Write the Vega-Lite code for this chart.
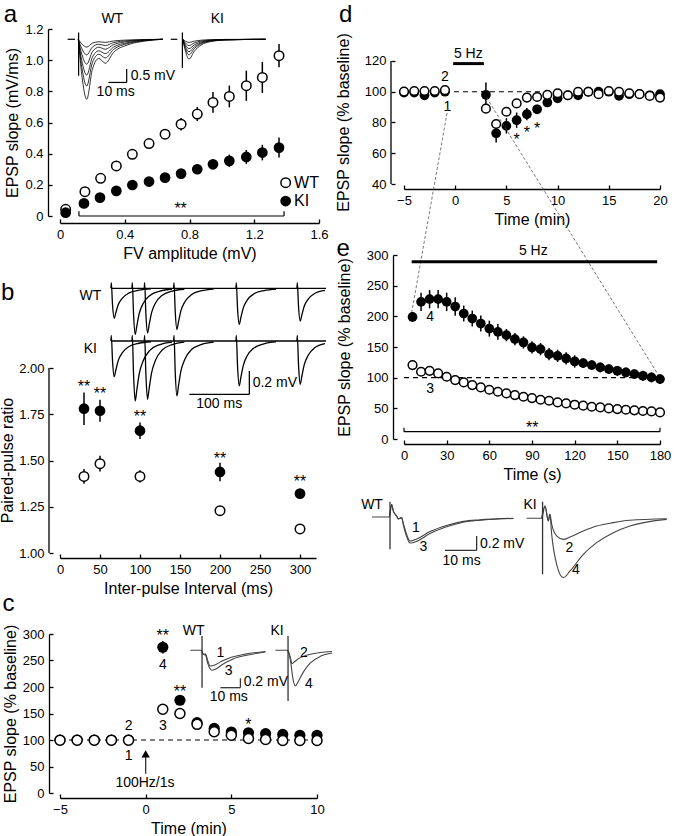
{
"$schema": "https://vega.github.io/schema/vega-lite/v6.json",
"background": "white",
"padding": {"left": 0, "top": 2, "right": 0, "bottom": 0},
"spacing": 0,
"config": {
  "font": "Liberation Sans",
  "view": {"stroke": null},
  "text": {"font": "Liberation Sans", "fontSize": 14, "color": "black"},
  "axis": {"domainColor": "black", "domainWidth": 1.3, "tickColor": "black", "tickWidth": 1.3, "tickSize": -4,
           "labelColor": "black", "labelFontSize": 13, "labelPadding": 9, "labelFont": "Liberation Sans",
           "titleColor": "black", "titleFontSize": 16, "titleFontWeight": "normal", "titleFont": "Liberation Sans",
           "titlePadding": 4, "grid": false, "labelFlush": false, "labelOverlap": false}
},
"datasets": {
  "a_wt": [
    {"fv":0.035,"slope":0.043,"lo":0.025,"hi":0.061},
    {"fv":0.154,"slope":0.156,"lo":0.141,"hi":0.171},
    {"fv":0.251,"slope":0.242,"lo":0.227,"hi":0.257},
    {"fv":0.348,"slope":0.321,"lo":0.301,"hi":0.341},
    {"fv":0.447,"slope":0.396,"lo":0.376,"hi":0.416},
    {"fv":0.55,"slope":0.465,"lo":0.445,"hi":0.485},
    {"fv":0.649,"slope":0.525,"lo":0.495,"hi":0.555},
    {"fv":0.748,"slope":0.589,"lo":0.549,"hi":0.629},
    {"fv":0.848,"slope":0.654,"lo":0.609,"hi":0.699},
    {"fv":0.945,"slope":0.729,"lo":0.662,"hi":0.796},
    {"fv":1.046,"slope":0.767,"lo":0.697,"hi":0.837},
    {"fv":1.151,"slope":0.836,"lo":0.739,"hi":0.933},
    {"fv":1.25,"slope":0.889,"lo":0.789,"hi":0.989},
    {"fv":1.353,"slope":1.029,"lo":0.954,"hi":1.104}
  ],
  "a_ki": [
    {"fv":0.035,"slope":0.021,"lo":0.011,"hi":0.031},
    {"fv":0.148,"slope":0.081,"lo":0.066,"hi":0.096},
    {"fv":0.247,"slope":0.118,"lo":0.103,"hi":0.133},
    {"fv":0.348,"slope":0.161,"lo":0.141,"hi":0.181},
    {"fv":0.447,"slope":0.199,"lo":0.179,"hi":0.219},
    {"fv":0.55,"slope":0.221,"lo":0.201,"hi":0.241},
    {"fv":0.649,"slope":0.246,"lo":0.221,"hi":0.271},
    {"fv":0.748,"slope":0.272,"lo":0.247,"hi":0.297},
    {"fv":0.848,"slope":0.3,"lo":0.27,"hi":0.33},
    {"fv":0.945,"slope":0.332,"lo":0.302,"hi":0.362},
    {"fv":1.046,"slope":0.354,"lo":0.314,"hi":0.394},
    {"fv":1.151,"slope":0.379,"lo":0.334,"hi":0.424},
    {"fv":1.25,"slope":0.407,"lo":0.357,"hi":0.457},
    {"fv":1.353,"slope":0.439,"lo":0.375,"hi":0.503}
  ],
  "a_leg_wt": [{"fv":1.394,"slope":0.214}],
  "a_leg_ki": [{"fv":1.394,"slope":0.096}],
  "a_leg_txt": [{"fv":1.446,"slope":0.214,"label":"WT"},{"fv":1.446,"slope":0.096,"label":"KI"}],
  "a_tr": [
    {"tr":"w1","fv":0.113,"slope":1.134},{"tr":"w1","fv":0.135,"slope":1.104},{"tr":"w1","fv":0.165,"slope":1.084},{"tr":"w1","fv":0.2,"slope":1.109},{"tr":"w1","fv":0.24,"slope":1.118},{"tr":"w1","fv":0.28,"slope":1.114},{"tr":"w1","fv":0.33,"slope":1.123},{"tr":"w1","fv":0.42,"slope":1.1295},{"tr":"w1","fv":0.52,"slope":1.1325},{"tr":"w1","fv":0.634,"slope":1.134},
    {"tr":"w2","fv":0.113,"slope":1.134},{"tr":"w2","fv":0.135,"slope":1.074},{"tr":"w2","fv":0.165,"slope":1.034},{"tr":"w2","fv":0.2,"slope":1.084},{"tr":"w2","fv":0.24,"slope":1.102},{"tr":"w2","fv":0.28,"slope":1.094},{"tr":"w2","fv":0.33,"slope":1.112},{"tr":"w2","fv":0.42,"slope":1.125},{"tr":"w2","fv":0.52,"slope":1.131},{"tr":"w2","fv":0.634,"slope":1.134},
    {"tr":"w3","fv":0.113,"slope":1.134},{"tr":"w3","fv":0.135,"slope":1.038},{"tr":"w3","fv":0.165,"slope":0.974},{"tr":"w3","fv":0.2,"slope":1.054},{"tr":"w3","fv":0.24,"slope":1.083},{"tr":"w3","fv":0.28,"slope":1.07},{"tr":"w3","fv":0.33,"slope":1.099},{"tr":"w3","fv":0.42,"slope":1.12},{"tr":"w3","fv":0.52,"slope":1.129},{"tr":"w3","fv":0.634,"slope":1.134},
    {"tr":"w4","fv":0.113,"slope":1.134},{"tr":"w4","fv":0.135,"slope":0.996},{"tr":"w4","fv":0.165,"slope":0.904},{"tr":"w4","fv":0.2,"slope":1.019},{"tr":"w4","fv":0.24,"slope":1.06},{"tr":"w4","fv":0.28,"slope":1.042},{"tr":"w4","fv":0.33,"slope":1.083},{"tr":"w4","fv":0.42,"slope":1.113},{"tr":"w4","fv":0.52,"slope":1.127},{"tr":"w4","fv":0.634,"slope":1.134},
    {"tr":"w5","fv":0.113,"slope":1.134},{"tr":"w5","fv":0.135,"slope":0.954},{"tr":"w5","fv":0.165,"slope":0.834},{"tr":"w5","fv":0.2,"slope":0.984},{"tr":"w5","fv":0.24,"slope":1.038},{"tr":"w5","fv":0.28,"slope":1.014},{"tr":"w5","fv":0.33,"slope":1.068},{"tr":"w5","fv":0.42,"slope":1.107},{"tr":"w5","fv":0.52,"slope":1.125},{"tr":"w5","fv":0.634,"slope":1.134},
    {"tr":"w6","fv":0.113,"slope":1.134},{"tr":"w6","fv":0.135,"slope":0.903},{"tr":"w6","fv":0.165,"slope":0.749},{"tr":"w6","fv":0.2,"slope":0.941},{"tr":"w6","fv":0.24,"slope":1.011},{"tr":"w6","fv":0.28,"slope":0.98},{"tr":"w6","fv":0.33,"slope":1.049},{"tr":"w6","fv":0.42,"slope":1.099},{"tr":"w6","fv":0.52,"slope":1.122},{"tr":"w6","fv":0.634,"slope":1.134},
    {"tr":"k1","fv":0.758,"slope":1.134},{"tr":"k1","fv":0.775,"slope":1.122},{"tr":"k1","fv":0.797,"slope":1.114},{"tr":"k1","fv":0.83,"slope":1.122},{"tr":"k1","fv":0.87,"slope":1.128},{"tr":"k1","fv":0.93,"slope":1.1316},{"tr":"k1","fv":1.02,"slope":1.1332},{"tr":"k1","fv":1.27,"slope":1.134},
    {"tr":"k2","fv":0.758,"slope":1.134},{"tr":"k2","fv":0.775,"slope":1.11},{"tr":"k2","fv":0.797,"slope":1.094},{"tr":"k2","fv":0.83,"slope":1.11},{"tr":"k2","fv":0.87,"slope":1.122},{"tr":"k2","fv":0.93,"slope":1.129},{"tr":"k2","fv":1.02,"slope":1.132},{"tr":"k2","fv":1.27,"slope":1.134},
    {"tr":"k3","fv":0.758,"slope":1.134},{"tr":"k3","fv":0.775,"slope":1.098},{"tr":"k3","fv":0.797,"slope":1.074},{"tr":"k3","fv":0.83,"slope":1.098},{"tr":"k3","fv":0.87,"slope":1.116},{"tr":"k3","fv":0.93,"slope":1.127},{"tr":"k3","fv":1.02,"slope":1.132},{"tr":"k3","fv":1.27,"slope":1.134},
    {"tr":"k4","fv":0.758,"slope":1.134},{"tr":"k4","fv":0.775,"slope":1.086},{"tr":"k4","fv":0.797,"slope":1.054},{"tr":"k4","fv":0.83,"slope":1.086},{"tr":"k4","fv":0.87,"slope":1.11},{"tr":"k4","fv":0.93,"slope":1.124},{"tr":"k4","fv":1.02,"slope":1.131},{"tr":"k4","fv":1.27,"slope":1.134},
    {"tr":"k5","fv":0.758,"slope":1.134},{"tr":"k5","fv":0.775,"slope":1.074},{"tr":"k5","fv":0.797,"slope":1.034},{"tr":"k5","fv":0.83,"slope":1.074},{"tr":"k5","fv":0.87,"slope":1.104},{"tr":"k5","fv":0.93,"slope":1.122},{"tr":"k5","fv":1.02,"slope":1.13},{"tr":"k5","fv":1.27,"slope":1.134},
    {"tr":"k6","fv":0.758,"slope":1.134},{"tr":"k6","fv":0.775,"slope":1.058},{"tr":"k6","fv":0.797,"slope":1.007},{"tr":"k6","fv":0.83,"slope":1.058},{"tr":"k6","fv":0.87,"slope":1.096},{"tr":"k6","fv":0.93,"slope":1.119},{"tr":"k6","fv":1.02,"slope":1.129},{"tr":"k6","fv":1.27,"slope":1.134}
  ],
  "a_seg": [
    {"fv":0.117,"slope":0,"fv2":1.384,"slope2":0},
    {"fv":0.117,"slope":0,"fv2":0.117,"slope2":0.03},
    {"fv":1.384,"slope":0,"fv2":1.384,"slope2":0.03},
    {"fv":0.412,"slope":0.857,"fv2":0.412,"slope2":0.943},
    {"fv":0.299,"slope":0.857,"fv2":0.412,"slope2":0.857},
    {"fv":0.047,"slope":1.134,"fv2":0.093,"slope2":1.134},
    {"fv":0.684,"slope":1.134,"fv2":0.725,"slope2":1.134},
    {"fv":0.115,"slope":0.9,"fv2":0.115,"slope2":1.177},
    {"fv":0.756,"slope":0.95,"fv2":0.756,"slope2":1.177}
  ],
  "a_txt": [{"fv":0.323,"slope":1.264,"label":"WT"},{"fv":0.972,"slope":1.264,"label":"KI"},{"fv":0.344,"slope":0.793,"label":"10 ms"}],
  "a_txt_left": [{"fv":0.437,"slope":0.9,"label":"0.5 mV"}],
  "a_star": [{"fv":0.745,"slope":0.07,"label":"**"}],
  "a_letter": [{"fv":-0.307,"slope":1.292,"label":"a"}],

  "b_wt": [
    {"ipi":30,"ppr":1.414,"lo":1.374,"hi":1.454},
    {"ipi":50,"ppr":1.483,"lo":1.44,"hi":1.526},
    {"ipi":100,"ppr":1.414,"lo":1.381,"hi":1.447},
    {"ipi":200,"ppr":1.229,"lo":1.214,"hi":1.244},
    {"ipi":300,"ppr":1.13,"lo":1.115,"hi":1.145}
  ],
  "b_ki": [
    {"ipi":30,"ppr":1.78,"lo":1.692,"hi":1.868},
    {"ipi":50,"ppr":1.769,"lo":1.709,"hi":1.829},
    {"ipi":100,"ppr":1.661,"lo":1.616,"hi":1.706},
    {"ipi":200,"ppr":1.438,"lo":1.388,"hi":1.488},
    {"ipi":300,"ppr":1.321,"lo":1.299,"hi":1.343}
  ],
  "b_tr": [
    {"tr":"wb","ipi":63.75,"ppr":2.431},{"tr":"wb","ipi":332.5,"ppr":2.431},
    {"tr":"wf","ipi":63.65,"ppr":2.431},{"tr":"wf","ipi":64.15,"ppr":2.461},{"tr":"wf","ipi":65.65,"ppr":2.342},{"tr":"wf","ipi":67.75,"ppr":2.269},{"tr":"wf","ipi":69.75,"ppr":2.298},{"tr":"wf","ipi":72.75,"ppr":2.342},{"tr":"wf","ipi":77.75,"ppr":2.377},{"tr":"wf","ipi":85.75,"ppr":2.405},{"tr":"wf","ipi":98.75,"ppr":2.421},{"tr":"wf","ipi":113.75,"ppr":2.428},
    {"tr":"w30","ipi":89.9,"ppr":2.431},{"tr":"w30","ipi":90.4,"ppr":2.461},{"tr":"w30","ipi":91.9,"ppr":2.294},{"tr":"w30","ipi":94,"ppr":2.182},{"tr":"w30","ipi":96,"ppr":2.227},{"tr":"w30","ipi":99,"ppr":2.294},{"tr":"w30","ipi":104,"ppr":2.349},{"tr":"w30","ipi":112,"ppr":2.391},{"tr":"w30","ipi":125,"ppr":2.416},{"tr":"w30","ipi":140,"ppr":2.426},
    {"tr":"w50","ipi":105.3,"ppr":2.431},{"tr":"w50","ipi":105.8,"ppr":2.461},{"tr":"w50","ipi":107.3,"ppr":2.298},{"tr":"w50","ipi":109.4,"ppr":2.19},{"tr":"w50","ipi":111.4,"ppr":2.233},{"tr":"w50","ipi":114.4,"ppr":2.298},{"tr":"w50","ipi":119.4,"ppr":2.352},{"tr":"w50","ipi":127.4,"ppr":2.392},{"tr":"w50","ipi":140.4,"ppr":2.416},{"tr":"w50","ipi":155.4,"ppr":2.426},
    {"tr":"w100","ipi":142,"ppr":2.431},{"tr":"w100","ipi":142.5,"ppr":2.461},{"tr":"w100","ipi":144,"ppr":2.309},{"tr":"w100","ipi":146.1,"ppr":2.209},{"tr":"w100","ipi":148.1,"ppr":2.249},{"tr":"w100","ipi":151.1,"ppr":2.309},{"tr":"w100","ipi":156.1,"ppr":2.358},{"tr":"w100","ipi":164.1,"ppr":2.396},{"tr":"w100","ipi":177.1,"ppr":2.418},{"tr":"w100","ipi":192.1,"ppr":2.427},
    {"tr":"w200","ipi":219.9,"ppr":2.431},{"tr":"w200","ipi":220.4,"ppr":2.461},{"tr":"w200","ipi":221.9,"ppr":2.324},{"tr":"w200","ipi":224,"ppr":2.236},{"tr":"w200","ipi":226,"ppr":2.271},{"tr":"w200","ipi":229,"ppr":2.324},{"tr":"w200","ipi":234,"ppr":2.367},{"tr":"w200","ipi":242,"ppr":2.4},{"tr":"w200","ipi":255,"ppr":2.419},{"tr":"w200","ipi":270,"ppr":2.427},
    {"tr":"w300","ipi":296.15,"ppr":2.431},{"tr":"w300","ipi":296.65,"ppr":2.461},{"tr":"w300","ipi":298.15,"ppr":2.334},{"tr":"w300","ipi":300.25,"ppr":2.254},{"tr":"w300","ipi":302.25,"ppr":2.286},{"tr":"w300","ipi":305.25,"ppr":2.334},{"tr":"w300","ipi":310.25,"ppr":2.373},{"tr":"w300","ipi":318.25,"ppr":2.403},{"tr":"w300","ipi":331.25,"ppr":2.42},
    {"tr":"kb","ipi":63.75,"ppr":2.146},{"tr":"kb","ipi":332.5,"ppr":2.146},
    {"tr":"kf","ipi":63.65,"ppr":2.146},{"tr":"kf","ipi":64.15,"ppr":2.176},{"tr":"kf","ipi":65.65,"ppr":2.04},{"tr":"kf","ipi":67.75,"ppr":1.953},{"tr":"kf","ipi":69.75,"ppr":1.988},{"tr":"kf","ipi":72.75,"ppr":2.04},{"tr":"kf","ipi":77.75,"ppr":2.082},{"tr":"kf","ipi":85.75,"ppr":2.115},{"tr":"kf","ipi":98.75,"ppr":2.134},{"tr":"kf","ipi":113.75,"ppr":2.142},
    {"tr":"k30","ipi":89.9,"ppr":2.146},{"tr":"k30","ipi":90.4,"ppr":2.176},{"tr":"k30","ipi":91.9,"ppr":1.968},{"tr":"k30","ipi":94,"ppr":1.822},{"tr":"k30","ipi":96,"ppr":1.88},{"tr":"k30","ipi":99,"ppr":1.968},{"tr":"k30","ipi":104,"ppr":2.039},{"tr":"k30","ipi":112,"ppr":2.094},{"tr":"k30","ipi":125,"ppr":2.127},{"tr":"k30","ipi":140,"ppr":2.14},
    {"tr":"k50","ipi":105.3,"ppr":2.146},{"tr":"k50","ipi":105.8,"ppr":2.176},{"tr":"k50","ipi":107.3,"ppr":1.973},{"tr":"k50","ipi":109.4,"ppr":1.831},{"tr":"k50","ipi":111.4,"ppr":1.888},{"tr":"k50","ipi":114.4,"ppr":1.973},{"tr":"k50","ipi":119.4,"ppr":2.042},{"tr":"k50","ipi":127.4,"ppr":2.096},{"tr":"k50","ipi":140.4,"ppr":2.127},{"tr":"k50","ipi":155.4,"ppr":2.14},
    {"tr":"k100","ipi":142,"ppr":2.146},{"tr":"k100","ipi":142.5,"ppr":2.176},{"tr":"k100","ipi":144,"ppr":1.983},{"tr":"k100","ipi":146.1,"ppr":1.849},{"tr":"k100","ipi":148.1,"ppr":1.903},{"tr":"k100","ipi":151.1,"ppr":1.983},{"tr":"k100","ipi":156.1,"ppr":2.048},{"tr":"k100","ipi":164.1,"ppr":2.099},{"tr":"k100","ipi":177.1,"ppr":2.128},{"tr":"k100","ipi":192.1,"ppr":2.14},
    {"tr":"k200","ipi":219.9,"ppr":2.146},{"tr":"k200","ipi":220.4,"ppr":2.176},{"tr":"k200","ipi":221.9,"ppr":2.012},{"tr":"k200","ipi":224,"ppr":1.903},{"tr":"k200","ipi":226,"ppr":1.947},{"tr":"k200","ipi":229,"ppr":2.012},{"tr":"k200","ipi":234,"ppr":2.066},{"tr":"k200","ipi":242,"ppr":2.107},{"tr":"k200","ipi":255,"ppr":2.131},{"tr":"k200","ipi":270,"ppr":2.141},
    {"tr":"k300","ipi":296.15,"ppr":2.146},{"tr":"k300","ipi":296.65,"ppr":2.176},{"tr":"k300","ipi":298.15,"ppr":2.017},{"tr":"k300","ipi":300.25,"ppr":1.912},{"tr":"k300","ipi":302.25,"ppr":1.954},{"tr":"k300","ipi":305.25,"ppr":2.017},{"tr":"k300","ipi":310.25,"ppr":2.069},{"tr":"k300","ipi":318.25,"ppr":2.109},{"tr":"k300","ipi":331.25,"ppr":2.132}
  ],
  "b_seg": [
    {"ipi":-13.75,"ppr":1,"ipi2":-13.75,"ppr2":2},
    {"ipi":236.7,"ppr":1.858,"ipi2":236.7,"ppr2":1.984},
    {"ipi":161.7,"ppr":1.858,"ipi2":236.7,"ppr2":1.858}
  ],
  "b_txt": [{"ipi":37.9,"ppr":2.389,"label":"WT"},{"ipi":37.9,"ppr":2.101,"label":"KI"},{"ipi":199,"ppr":1.804,"label":"100 ms"}],
  "b_txt_left": [{"ipi":240.8,"ppr":1.919,"label":"0.2 mV"}],
  "b_star": [{"ipi":30,"ppr":1.92,"label":"**"},{"ipi":50,"ppr":1.88,"label":"**"},{"ipi":100,"ppr":1.757,"label":"**"},{"ipi":200,"ppr":1.528,"label":"**"},{"ipi":300,"ppr":1.405,"label":"**"}],
  "b_letter": [{"ipi":-65.4,"ppr":2.407,"label":"b"}],
  "b_ytitle": [{"ipi":-65,"ppr":1.5,"label":"Paired-pulse ratio"}],

  "c_wt": [
    {"t":-5,"pct":99.5},{"t":-4,"pct":99.5},{"t":-3,"pct":99.5},{"t":-2,"pct":99.5},{"t":-1,"pct":99.5},
    {"t":1,"pct":158},{"t":2,"pct":150},{"t":3,"pct":129.5},{"t":4,"pct":115.6},{"t":5,"pct":109},
    {"t":6,"pct":103},{"t":7,"pct":101},{"t":8,"pct":99},{"t":9,"pct":99},{"t":10,"pct":99}
  ],
  "c_ki": [
    {"t":-5,"pct":100,"lo":97,"hi":103},{"t":-4,"pct":100,"lo":97,"hi":103},{"t":-3,"pct":100,"lo":97,"hi":103},{"t":-2,"pct":100,"lo":97,"hi":103},{"t":-1,"pct":100,"lo":97,"hi":103},
    {"t":1,"pct":275,"lo":263,"hi":287},{"t":2,"pct":175,"lo":170,"hi":180},{"t":3,"pct":132.7,"lo":129,"hi":136},{"t":4,"pct":122,"lo":118,"hi":126},{"t":5,"pct":115,"lo":111,"hi":119},
    {"t":6,"pct":113.7,"lo":110,"hi":117},{"t":7,"pct":112,"lo":109,"hi":115},{"t":8,"pct":110.5,"lo":107,"hi":114},{"t":9,"pct":109,"lo":106,"hi":112},{"t":10,"pct":109,"lo":106,"hi":112}
  ],
  "c_tr": [
    {"tr":"w1","t":2.61,"pct":269.2},{"tr":"w1","t":3.25,"pct":269.2},{"tr":"w1","t":3.35,"pct":262},{"tr":"w1","t":3.5,"pct":262},{"tr":"w1","t":3.62,"pct":250},{"tr":"w1","t":3.77,"pct":239.6},{"tr":"w1","t":4.0,"pct":241},{"tr":"w1","t":4.4,"pct":248},{"tr":"w1","t":5.0,"pct":256},{"tr":"w1","t":5.8,"pct":262},{"tr":"w1","t":6.99,"pct":267},
    {"tr":"w3","t":3.25,"pct":269.2},{"tr":"w3","t":3.35,"pct":262},{"tr":"w3","t":3.5,"pct":260},{"tr":"w3","t":3.62,"pct":245},{"tr":"w3","t":3.87,"pct":231.5},{"tr":"w3","t":4.1,"pct":234},{"tr":"w3","t":4.5,"pct":243},{"tr":"w3","t":5.1,"pct":253},{"tr":"w3","t":5.9,"pct":260},{"tr":"w3","t":6.99,"pct":266},
    {"tr":"k2","t":7.57,"pct":269.2},{"tr":"k2","t":8.28,"pct":269.2},{"tr":"k2","t":8.38,"pct":262},{"tr":"k2","t":8.45,"pct":255},{"tr":"k2","t":8.54,"pct":244},{"tr":"k2","t":8.7,"pct":248},{"tr":"k2","t":9.0,"pct":255},{"tr":"k2","t":9.5,"pct":261},{"tr":"k2","t":10.2,"pct":265},{"tr":"k2","t":10.88,"pct":267},
    {"tr":"k4","t":8.28,"pct":269.2},{"tr":"k4","t":8.38,"pct":262},{"tr":"k4","t":8.45,"pct":250},{"tr":"k4","t":8.6,"pct":215},{"tr":"k4","t":8.74,"pct":202},{"tr":"k4","t":8.9,"pct":210},{"tr":"k4","t":9.2,"pct":228},{"tr":"k4","t":9.6,"pct":245},{"tr":"k4","t":10.2,"pct":258},{"tr":"k4","t":10.88,"pct":264}
  ],
  "c_seg": [
    {"t":3.29,"pct":198.7,"t2":3.29,"pct2":296},
    {"t":8.31,"pct":173.6,"t2":8.31,"pct2":296},
    {"t":5.53,"pct":198.7,"t2":5.53,"pct2":216.4},
    {"t":4.36,"pct":198.7,"t2":5.53,"pct2":198.7},
    {"t":0,"pct":36.5,"t2":0,"pct2":74}
  ],
  "c_dash": [{"t":-5,"pct":100,"t2":10,"pct2":100}],
  "c_arrow": [{"t":0,"pct":74}],
  "c_txt": [
    {"t":1,"pct":241.5,"label":"4"},{"t":1,"pct":126.4,"label":"3"},{"t":-1,"pct":126.4,"label":"2"},{"t":-1,"pct":69.8,"label":"1"},
    {"t":-0.04,"pct":18.3,"label":"100Hz/1s"},{"t":2.8,"pct":305.7,"label":"WT"},{"t":7.67,"pct":305.7,"label":"KI"},
    {"t":4.36,"pct":264.7,"label":"1"},{"t":4.85,"pct":230.2,"label":"3"},{"t":9.23,"pct":264.7,"label":"2"},{"t":9.52,"pct":205,"label":"4"},
    {"t":4.85,"pct":181,"label":"10 ms"}
  ],
  "c_txt_left": [{"t":5.72,"pct":210,"label":"0.2 mV"}],
  "c_star": [{"t":1,"pct":303.8,"label":"**"},{"t":2,"pct":198.7,"label":"**"},{"t":6,"pct":135.8,"label":"*"}],
  "c_letter": [{"t":-8.0,"pct":356,"label":"c"}],

  "d_wt": [
    {"t":-5,"pct":100.1},{"t":-4,"pct":100.5},{"t":-3,"pct":100.5},{"t":-2,"pct":100.5},{"t":-1,"pct":101},
    {"t":3,"pct":89},{"t":4,"pct":79},{"t":5,"pct":87},{"t":6,"pct":92.4},{"t":7,"pct":96.2},
    {"t":8,"pct":96.6},{"t":9,"pct":98},{"t":10,"pct":99},{"t":11,"pct":97.7},{"t":12,"pct":100},
    {"t":13,"pct":100},{"t":14,"pct":98.4},{"t":15,"pct":100.5},{"t":16,"pct":100},{"t":17,"pct":99},
    {"t":18,"pct":98.4},{"t":19,"pct":97.3},{"t":20,"pct":96.2}
  ],
  "d_ki": [
    {"t":-5,"pct":99.5,"lo":98,"hi":101},{"t":-4,"pct":99.5,"lo":98,"hi":101},{"t":-3,"pct":97.7,"lo":96,"hi":99.4},{"t":-2,"pct":99.5,"lo":98,"hi":101},{"t":-1,"pct":100,"lo":98.5,"hi":101.5},
    {"t":3,"pct":98,"lo":90,"hi":106},{"t":4,"pct":73,"lo":67,"hi":79},{"t":5,"pct":77.8,"lo":72.8,"hi":82.8},{"t":6,"pct":81.5,"lo":76.5,"hi":86.5},{"t":7,"pct":85.4,"lo":81.4,"hi":89.4},
    {"t":8,"pct":88.6,"lo":85.6,"hi":91.6},{"t":9,"pct":93,"lo":91,"hi":95},{"t":10,"pct":95.7,"lo":93.7,"hi":97.7},{"t":11,"pct":97.7,"lo":95.7,"hi":99.7},{"t":12,"pct":97.7,"lo":95.7,"hi":99.7},
    {"t":13,"pct":100,"lo":98,"hi":102},{"t":14,"pct":100,"lo":98,"hi":102},{"t":15,"pct":100,"lo":98,"hi":102},{"t":16,"pct":97.3,"lo":95.3,"hi":99.3},{"t":17,"pct":98.4,"lo":96.4,"hi":100.4},
    {"t":18,"pct":98.4,"lo":96.4,"hi":100.4},{"t":19,"pct":97.7,"lo":95.7,"hi":99.7},{"t":20,"pct":98.4,"lo":96.4,"hi":100.4}
  ],
  "d_seg": [{"t":-6.27,"pct":40,"t2":-6.27,"pct2":120}],
  "d_dash": [{"t":-1,"pct":100,"t2":10,"pct2":100}],
  "d_bar": [{"t":-0.2,"pct":118.3,"t2":2.8,"pct2":118.3}],
  "d_txt": [{"t":1.28,"pct":124.3,"label":"5 Hz"},{"t":-1,"pct":109.6,"label":"2"},{"t":-0.77,"pct":90,"label":"1"}],
  "d_star": [{"t":6,"pct":71.2,"label":"*"},{"t":7,"pct":75.5,"label":"*"},{"t":8,"pct":78.4,"label":"*"}],
  "d_letter": [{"t":-10.7,"pct":150.1,"label":"d"}],
  "d_ytitle": [{"t":-10.9,"pct":80,"label":"EPSP slope (% baseline)"}],

  "e_ki": [
    {"t":6,"pct":199,"lo":191,"hi":207},{"t":12,"pct":223.5,"lo":208.5,"hi":238.5},{"t":18,"pct":228,"lo":213,"hi":243},{"t":24,"pct":228,"lo":213,"hi":243},{"t":30,"pct":223.5,"lo":208.5,"hi":238.5},
    {"t":36,"pct":216,"lo":201,"hi":231},{"t":42,"pct":204.6,"lo":191.6,"hi":217.6},{"t":48,"pct":196.4,"lo":183.4,"hi":209.4},{"t":54,"pct":188.3,"lo":175.3,"hi":201.3},{"t":60,"pct":180,"lo":167,"hi":193},
    {"t":66,"pct":174.7,"lo":161.7,"hi":187.7},{"t":72,"pct":169.3,"lo":159.3,"hi":179.3},{"t":78,"pct":162.8,"lo":152.8,"hi":172.8},{"t":84,"pct":157.4,"lo":147.4,"hi":167.4},{"t":90,"pct":149.2,"lo":139.2,"hi":159.2},
    {"t":96,"pct":146.5,"lo":136.5,"hi":156.5},{"t":102,"pct":138.4,"lo":128.4,"hi":148.4},{"t":108,"pct":135.6,"lo":125.6,"hi":145.6},{"t":114,"pct":131.3,"lo":121.3,"hi":141.3},{"t":120,"pct":126.4,"lo":116.4,"hi":136.4},
    {"t":126,"pct":123.7,"lo":115.7,"hi":131.7},{"t":132,"pct":120.5,"lo":112.5,"hi":128.5},{"t":138,"pct":116.7,"lo":108.7,"hi":124.7},{"t":144,"pct":114,"lo":106,"hi":122},{"t":150,"pct":111.2,"lo":103.2,"hi":119.2},
    {"t":156,"pct":108.5,"lo":100.5,"hi":116.5},{"t":162,"pct":105.8,"lo":97.8,"hi":113.8},{"t":168,"pct":103.1,"lo":95.1,"hi":111.1},{"t":174,"pct":100.4,"lo":92.4,"hi":108.4},{"t":180,"pct":97.7,"lo":89.7,"hi":105.7}
  ],
  "e_wt": [
    {"t":6,"pct":120.5},{"t":12,"pct":109.6},{"t":18,"pct":111.2},{"t":24,"pct":106.9},{"t":30,"pct":101.5},
    {"t":36,"pct":96},{"t":42,"pct":92.2},{"t":48,"pct":87.9},{"t":54,"pct":84.1},{"t":60,"pct":80.3},
    {"t":66,"pct":77},{"t":72,"pct":74.3},{"t":78,"pct":71.6},{"t":84,"pct":68.9},{"t":90,"pct":66.7},
    {"t":96,"pct":64},{"t":102,"pct":62.4},{"t":108,"pct":59.7},{"t":114,"pct":58},{"t":120,"pct":55.9},
    {"t":126,"pct":54.3},{"t":132,"pct":52.6},{"t":138,"pct":51.5},{"t":144,"pct":49.9},{"t":150,"pct":48.8},
    {"t":156,"pct":47.7},{"t":162,"pct":46.7},{"t":168,"pct":45.6},{"t":174,"pct":45},{"t":180,"pct":43.4}
  ],
  "e_dash": [{"t":0,"pct":100,"t2":180,"pct2":100}],
  "e_bar": [{"t":5.4,"pct":289,"t2":178,"pct2":289}],
  "e_seg": [{"t":0,"pct":11.9,"t2":180,"pct2":11.9},{"t":0,"pct":11.9,"t2":0,"pct2":18.5},{"t":180,"pct":11.9,"t2":180,"pct2":18.5}],
  "e_zoom": [{"t":30.9,"pct":539.7,"t2":5.4,"pct2":206},{"t":58.1,"pct":556.5,"t2":180,"pct2":100}],
  "e_txt": [{"t":90.9,"pct":306.5,"label":"5 Hz"},{"t":18.3,"pct":199,"label":"4"},{"t":18.3,"pct":81,"label":"3"}],
  "e_star": [{"t":90.2,"pct":25,"label":"**"}],
  "e_letter": [{"t":-42.7,"pct":309.3,"label":"e"}],

  "t_tr": [
    {"tr":"W1","ms":0,"mv":0},{"tr":"W1","ms":5.42,"mv":0},{"tr":"W1","ms":6.15,"mv":0.19},{"tr":"W1","ms":6.67,"mv":0.09},{"tr":"W1","ms":7.71,"mv":0.015},{"tr":"W1","ms":8.23,"mv":-0.03},{"tr":"W1","ms":9.27,"mv":-0.01},{"tr":"W1","ms":9.79,"mv":-0.1},{"tr":"W1","ms":10.83,"mv":-0.27},{"tr":"W1","ms":11.875,"mv":-0.37},{"tr":"W1","ms":13.96,"mv":-0.34},{"tr":"W1","ms":18.1,"mv":-0.225},{"tr":"W1","ms":23.3,"mv":-0.13},{"tr":"W1","ms":28.5,"mv":-0.068},{"tr":"W1","ms":33.75,"mv":-0.044},{"tr":"W1","ms":44.2,"mv":-0.02},
    {"tr":"W3","ms":5.42,"mv":0},{"tr":"W3","ms":6.15,"mv":0.19},{"tr":"W3","ms":6.67,"mv":0.09},{"tr":"W3","ms":7.71,"mv":0.015},{"tr":"W3","ms":8.23,"mv":-0.03},{"tr":"W3","ms":9.27,"mv":-0.01},{"tr":"W3","ms":9.79,"mv":-0.12},{"tr":"W3","ms":10.83,"mv":-0.3},{"tr":"W3","ms":11.875,"mv":-0.4},{"tr":"W3","ms":13.96,"mv":-0.375},{"tr":"W3","ms":18.1,"mv":-0.255},{"tr":"W3","ms":23.3,"mv":-0.15},{"tr":"W3","ms":28.5,"mv":-0.08},{"tr":"W3","ms":33.75,"mv":-0.05},{"tr":"W3","ms":44.2,"mv":-0.022},
    {"tr":"K2","ms":48.3,"mv":-0.02},{"tr":"K2","ms":53.0,"mv":-0.02},{"tr":"K2","ms":54.06,"mv":0.17},{"tr":"K2","ms":55.1,"mv":-0.06},{"tr":"K2","ms":55.6,"mv":0.04},{"tr":"K2","ms":56.15,"mv":-0.11},{"tr":"K2","ms":57.7,"mv":-0.29},{"tr":"K2","ms":59.8,"mv":-0.344},{"tr":"K2","ms":61.9,"mv":-0.308},{"tr":"K2","ms":66.04,"mv":-0.215},{"tr":"K2","ms":70.2,"mv":-0.138},{"tr":"K2","ms":75.4,"mv":-0.087},{"tr":"K2","ms":80.6,"mv":-0.051},{"tr":"K2","ms":92.1,"mv":-0.026},
    {"tr":"K4","ms":53.0,"mv":-0.02},{"tr":"K4","ms":54.06,"mv":0.17},{"tr":"K4","ms":55.1,"mv":-0.06},{"tr":"K4","ms":55.6,"mv":0.04},{"tr":"K4","ms":56.15,"mv":-0.267},{"tr":"K4","ms":57.7,"mv":-0.728},{"tr":"K4","ms":59.8,"mv":-0.933},{"tr":"K4","ms":61.9,"mv":-0.831},{"tr":"K4","ms":66.04,"mv":-0.574},{"tr":"K4","ms":70.2,"mv":-0.395},{"tr":"K4","ms":75.4,"mv":-0.241},{"tr":"K4","ms":80.6,"mv":-0.138},{"tr":"K4","ms":92.1,"mv":-0.036}
  ],
  "t_seg": [
    {"ms":5.63,"mv":0.236,"ms2":5.63,"mv2":-0.497},
    {"ms":53.3,"mv":0.236,"ms2":53.3,"mv2":-0.882},
    {"ms":32.7,"mv":-0.513,"ms2":32.7,"mv2":-0.292},
    {"ms":22.8,"mv":-0.513,"ms2":32.7,"mv2":-0.513}
  ],
  "t_txt": [{"ms":0,"mv":0.185,"label":"WT"},{"ms":49.4,"mv":0.185,"label":"KI"},{"ms":13.75,"mv":-0.164,"label":"1"},{"ms":16.04,"mv":-0.462,"label":"3"},{"ms":61.7,"mv":-0.471,"label":"2"},{"ms":63.75,"mv":-0.82,"label":"4"},{"ms":28,"mv":-0.677,"label":"10 ms"}],
  "t_txt_left": [{"ms":33.75,"mv":-0.41,"label":"0.2 mV"}]
},
"hconcat": [
 {
  "bounds": "flush",
  "spacing": 81,
  "vconcat": [
   {
    "width": 259, "height": 187,
    "encoding": {
      "x": {"field": "fv", "type": "quantitative", "scale": {"domain": [0, 1.6], "nice": false, "zero": false},
            "axis": {"title": "FV amplitude (mV)", "values": [0, 0.4, 0.8, 1.2, 1.6], "labelExpr": "datum.value == 0 ? '0' : format(datum.value, '.1f')", "offset": 7}},
      "y": {"field": "slope", "type": "quantitative", "scale": {"domain": [0, 1.2], "nice": false, "zero": false},
            "axis": {"title": "EPSP slope (mV/ms)", "values": [0, 0.2, 0.4, 0.6, 0.8, 1.0, 1.2], "labelExpr": "datum.value == 0 ? '0' : format(datum.value, '.1f')", "offset": 12}}
    },
    "layer": [
      {"data": {"name": "a_tr"}, "mark": {"type": "line", "color": "black", "strokeWidth": 0.8, "interpolate": "monotone"}, "encoding": {"detail": {"field": "tr", "type": "nominal"}}},
      {"data": {"name": "a_seg"}, "mark": {"type": "rule", "color": "black", "strokeWidth": 1.2}, "encoding": {"x2": {"field": "fv2"}, "y2": {"field": "slope2"}}},
      {"data": {"name": "a_ki"}, "mark": {"type": "rule", "color": "black", "strokeWidth": 1.5}, "encoding": {"y": {"field": "lo", "type": "quantitative"}, "y2": {"field": "hi"}}},
      {"data": {"name": "a_wt"}, "mark": {"type": "rule", "color": "black", "strokeWidth": 1.5}, "encoding": {"y": {"field": "lo", "type": "quantitative"}, "y2": {"field": "hi"}}},
      {"data": {"name": "a_wt"}, "mark": {"type": "circle", "size": 90, "fill": "white", "stroke": "black", "strokeWidth": 1.5, "opacity": 1}},
      {"data": {"name": "a_ki"}, "mark": {"type": "circle", "size": 115, "color": "black", "opacity": 1}},
      {"data": {"name": "a_leg_wt"}, "mark": {"type": "circle", "size": 90, "fill": "white", "stroke": "black", "strokeWidth": 1.5, "opacity": 1}},
      {"data": {"name": "a_leg_ki"}, "mark": {"type": "circle", "size": 115, "color": "black", "opacity": 1}},
      {"data": {"name": "a_txt"}, "mark": {"type": "text", "fontSize": 14}, "encoding": {"text": {"field": "label"}}},
      {"data": {"name": "a_txt_left"}, "mark": {"type": "text", "fontSize": 14, "align": "left"}, "encoding": {"text": {"field": "label"}}},
      {"data": {"name": "a_leg_txt"}, "mark": {"type": "text", "fontSize": 16, "align": "left"}, "encoding": {"text": {"field": "label"}}},
      {"data": {"name": "a_star"}, "mark": {"type": "text", "fontSize": 16, "dy": 4}, "encoding": {"text": {"field": "label"}}},
      {"data": {"name": "a_letter"}, "mark": {"type": "text", "fontSize": 24}, "encoding": {"text": {"field": "label"}}}
    ]
   },
   {
    "width": 256, "height": 256,
    "encoding": {
      "x": {"field": "ipi", "type": "quantitative", "scale": {"domain": [0, 320], "nice": false, "zero": false},
            "axis": {"title": "Inter-pulse Interval (ms)", "values": [0, 50, 100, 150, 200, 250, 300], "offset": 5}},
      "y": {"field": "ppr", "type": "quantitative", "scale": {"domain": [1, 2.384], "nice": false, "zero": false},
            "axis": {"title": null, "values": [1, 1.25, 1.5, 1.75, 2], "format": ".2f", "domain": false, "offset": 11}}
    },
    "layer": [
      {"data": {"name": "b_tr"}, "mark": {"type": "line", "color": "black", "strokeWidth": 1.3, "interpolate": "monotone"}, "encoding": {"detail": {"field": "tr", "type": "nominal"}}},
      {"data": {"name": "b_seg"}, "mark": {"type": "rule", "color": "black", "strokeWidth": 1.3}, "encoding": {"x2": {"field": "ipi2"}, "y2": {"field": "ppr2"}}},
      {"data": {"name": "b_ki"}, "mark": {"type": "rule", "color": "black", "strokeWidth": 1.5}, "encoding": {"y": {"field": "lo", "type": "quantitative"}, "y2": {"field": "hi"}}},
      {"data": {"name": "b_wt"}, "mark": {"type": "rule", "color": "black", "strokeWidth": 1.5}, "encoding": {"y": {"field": "lo", "type": "quantitative"}, "y2": {"field": "hi"}}},
      {"data": {"name": "b_wt"}, "mark": {"type": "circle", "size": 90, "fill": "white", "stroke": "black", "strokeWidth": 1.5, "opacity": 1}},
      {"data": {"name": "b_ki"}, "mark": {"type": "circle", "size": 115, "color": "black", "opacity": 1}},
      {"data": {"name": "b_txt"}, "mark": {"type": "text", "fontSize": 14}, "encoding": {"text": {"field": "label"}}},
      {"data": {"name": "b_txt_left"}, "mark": {"type": "text", "fontSize": 14, "align": "left"}, "encoding": {"text": {"field": "label"}}},
      {"data": {"name": "b_star"}, "mark": {"type": "text", "fontSize": 16, "dy": 4}, "encoding": {"text": {"field": "label"}}},
      {"data": {"name": "b_letter"}, "mark": {"type": "text", "fontSize": 24}, "encoding": {"text": {"field": "label"}}},
      {"data": {"name": "b_ytitle"}, "mark": {"type": "text", "fontSize": 16, "angle": 270}, "encoding": {"text": {"field": "label"}}}
    ]
   },
   {
    "width": 257, "height": 159,
    "encoding": {
      "x": {"field": "t", "type": "quantitative", "scale": {"domain": [-5, 10], "nice": false, "zero": false},
            "axis": {"title": "Time (min)", "values": [-5, 0, 5, 10], "offset": 5}},
      "y": {"field": "pct", "type": "quantitative", "scale": {"domain": [0, 300], "nice": false, "zero": false},
            "axis": {"title": "EPSP slope (% baseline)", "values": [0, 50, 100, 150, 200, 250, 300], "offset": 11}}
    },
    "layer": [
      {"data": {"name": "c_tr"}, "mark": {"type": "line", "color": "#444", "strokeWidth": 1.1, "interpolate": "monotone"}, "encoding": {"detail": {"field": "tr", "type": "nominal"}}},
      {"data": {"name": "c_seg"}, "mark": {"type": "rule", "color": "#333", "strokeWidth": 1.3}, "encoding": {"x2": {"field": "t2"}, "y2": {"field": "pct2"}}},
      {"data": {"name": "c_dash"}, "mark": {"type": "rule", "color": "black", "strokeWidth": 1.2, "strokeDash": [5, 4]}, "encoding": {"x2": {"field": "t2"}, "y2": {"field": "pct2"}}},
      {"data": {"name": "c_arrow"}, "mark": {"type": "point", "shape": "triangle-up", "size": 70, "filled": true, "color": "black", "opacity": 1}},
      {"data": {"name": "c_ki"}, "mark": {"type": "rule", "color": "black", "strokeWidth": 1.5}, "encoding": {"y": {"field": "lo", "type": "quantitative"}, "y2": {"field": "hi"}}},
      {"data": {"name": "c_ki"}, "mark": {"type": "circle", "size": 125, "color": "black", "opacity": 1}},
      {"data": {"name": "c_wt"}, "mark": {"type": "circle", "size": 100, "fill": "white", "stroke": "black", "strokeWidth": 1.5, "opacity": 1}},
      {"data": {"name": "c_txt"}, "mark": {"type": "text", "fontSize": 14}, "encoding": {"text": {"field": "label"}}},
      {"data": {"name": "c_txt_left"}, "mark": {"type": "text", "fontSize": 14, "align": "left"}, "encoding": {"text": {"field": "label"}}},
      {"data": {"name": "c_star"}, "mark": {"type": "text", "fontSize": 16, "dy": 4}, "encoding": {"text": {"field": "label"}}},
      {"data": {"name": "c_letter"}, "mark": {"type": "text", "fontSize": 24}, "encoding": {"text": {"field": "label"}}}
    ]
   }
  ]
 },
 {
  "bounds": "flush",
  "spacing": 71,
  "vconcat": [
   {
    "width": 256, "height": 155,
    "encoding": {
      "x": {"field": "t", "type": "quantitative", "scale": {"domain": [-5, 20], "nice": false, "zero": false},
            "axis": {"title": "Time (min)", "values": [-5, 0, 5, 10, 15, 20], "offset": 5}},
      "y": {"field": "pct", "type": "quantitative", "scale": {"domain": [40, 140.8], "nice": false, "zero": false},
            "axis": {"title": null, "values": [40, 60, 80, 100, 120], "offset": 13, "domain": false}}
    },
    "layer": [
      {"data": {"name": "d_seg"}, "mark": {"type": "rule", "color": "black", "strokeWidth": 1.3}, "encoding": {"x2": {"field": "t2"}, "y2": {"field": "pct2"}}},
      {"data": {"name": "d_dash"}, "mark": {"type": "rule", "color": "black", "strokeWidth": 1.2, "strokeDash": [5, 4]}, "encoding": {"x2": {"field": "t2"}, "y2": {"field": "pct2"}}},
      {"data": {"name": "d_bar"}, "mark": {"type": "rule", "color": "black", "strokeWidth": 3}, "encoding": {"x2": {"field": "t2"}, "y2": {"field": "pct2"}}},
      {"data": {"name": "d_ki"}, "mark": {"type": "rule", "color": "black", "strokeWidth": 1.5}, "encoding": {"y": {"field": "lo", "type": "quantitative"}, "y2": {"field": "hi"}}},
      {"data": {"name": "d_ki"}, "mark": {"type": "circle", "size": 95, "color": "black", "opacity": 1}},
      {"data": {"name": "d_wt"}, "mark": {"type": "circle", "size": 75, "fill": "white", "stroke": "black", "strokeWidth": 1.5, "opacity": 1}},
      {"data": {"name": "d_txt"}, "mark": {"type": "text", "fontSize": 14}, "encoding": {"text": {"field": "label"}}},
      {"data": {"name": "d_star"}, "mark": {"type": "text", "fontSize": 16, "dy": 4}, "encoding": {"text": {"field": "label"}}},
      {"data": {"name": "d_letter"}, "mark": {"type": "text", "fontSize": 24}, "encoding": {"text": {"field": "label"}}},
      {"data": {"name": "d_ytitle"}, "mark": {"type": "text", "fontSize": 16, "angle": 270}, "encoding": {"text": {"field": "label"}}}
    ]
   },
   {
    "width": 256, "height": 184,
    "encoding": {
      "x": {"field": "t", "type": "quantitative", "scale": {"domain": [0, 180], "nice": false, "zero": false},
            "axis": {"title": "Time (s)", "values": [0, 30, 60, 90, 120, 150, 180], "offset": 5}},
      "y": {"field": "pct", "type": "quantitative", "scale": {"domain": [0, 300], "nice": false, "zero": false},
            "axis": {"title": "EPSP slope (% baseline)", "values": [0, 50, 100, 150, 200, 250, 300], "offset": 11, "titlePadding": 14}}
    },
    "layer": [
      {"data": {"name": "e_zoom"}, "mark": {"type": "rule", "color": "#555", "strokeWidth": 0.8, "strokeDash": [3, 2]}, "encoding": {"x2": {"field": "t2"}, "y2": {"field": "pct2"}}},
      {"data": {"name": "e_dash"}, "mark": {"type": "rule", "color": "black", "strokeWidth": 1.2, "strokeDash": [5, 4]}, "encoding": {"x2": {"field": "t2"}, "y2": {"field": "pct2"}}},
      {"data": {"name": "e_bar"}, "mark": {"type": "rule", "color": "black", "strokeWidth": 3}, "encoding": {"x2": {"field": "t2"}, "y2": {"field": "pct2"}}},
      {"data": {"name": "e_seg"}, "mark": {"type": "rule", "color": "black", "strokeWidth": 1.2}, "encoding": {"x2": {"field": "t2"}, "y2": {"field": "pct2"}}},
      {"data": {"name": "e_ki"}, "mark": {"type": "rule", "color": "black", "strokeWidth": 1.5}, "encoding": {"y": {"field": "lo", "type": "quantitative"}, "y2": {"field": "hi"}}},
      {"data": {"name": "e_ki"}, "mark": {"type": "circle", "size": 95, "color": "black", "opacity": 1}},
      {"data": {"name": "e_wt"}, "mark": {"type": "circle", "size": 75, "fill": "white", "stroke": "black", "strokeWidth": 1.5, "opacity": 1}},
      {"data": {"name": "e_txt"}, "mark": {"type": "text", "fontSize": 14}, "encoding": {"text": {"field": "label"}}},
      {"data": {"name": "e_star"}, "mark": {"type": "text", "fontSize": 16, "dy": 4}, "encoding": {"text": {"field": "label"}}},
      {"data": {"name": "e_letter"}, "mark": {"type": "text", "fontSize": 24}, "encoding": {"text": {"field": "label"}}}
    ]
   },
   {
    "width": 264, "height": 71,
    "encoding": {
      "x": {"field": "ms", "type": "quantitative", "scale": {"domain": [10, 92.5], "nice": false, "zero": false}, "axis": null},
      "y": {"field": "mv", "type": "quantitative", "scale": {"domain": [-0.985, 0.1077], "nice": false, "zero": false}, "axis": null}
    },
    "layer": [
      {"data": {"name": "t_tr"}, "mark": {"type": "line", "color": "#444", "strokeWidth": 1.1, "interpolate": "monotone"}, "encoding": {"detail": {"field": "tr", "type": "nominal"}}},
      {"data": {"name": "t_seg"}, "mark": {"type": "rule", "color": "#333", "strokeWidth": 1.3}, "encoding": {"x2": {"field": "ms2"}, "y2": {"field": "mv2"}}},
      {"data": {"name": "t_txt"}, "mark": {"type": "text", "fontSize": 14}, "encoding": {"text": {"field": "label"}}},
      {"data": {"name": "t_txt_left"}, "mark": {"type": "text", "fontSize": 14, "align": "left"}, "encoding": {"text": {"field": "label"}}}
    ]
   }
  ]
 }
]
}
